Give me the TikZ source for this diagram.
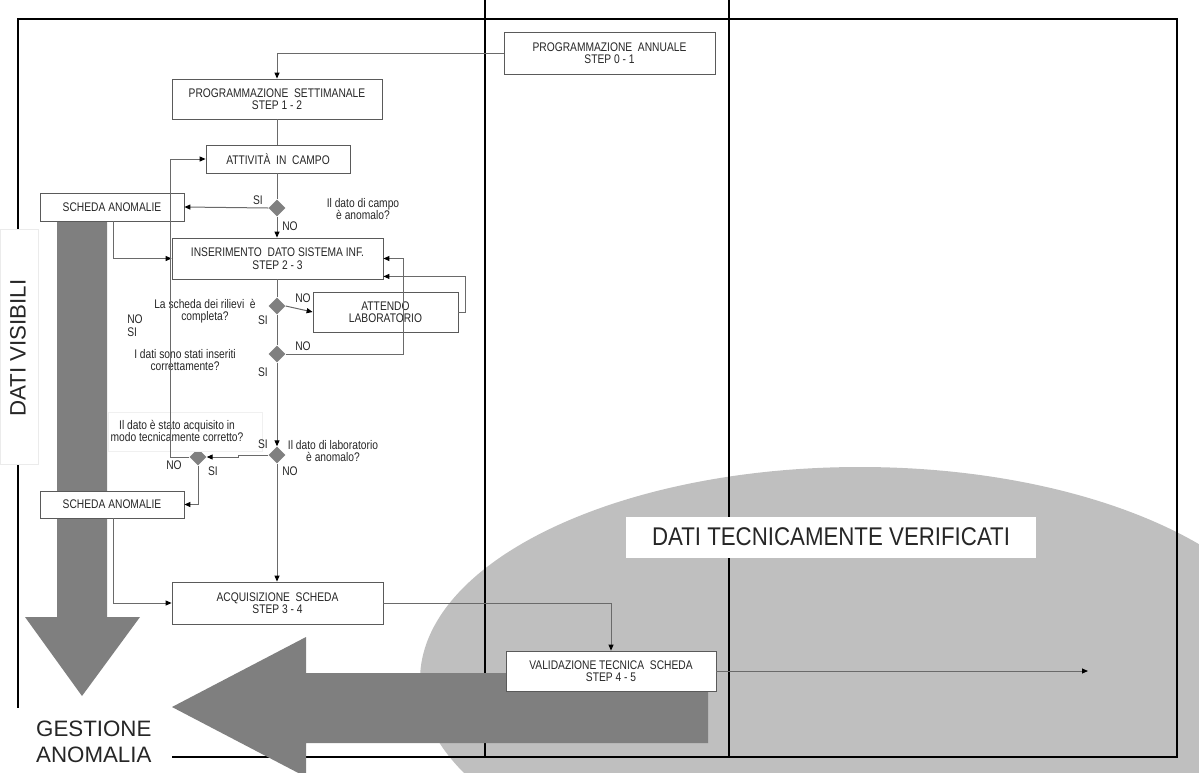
\documentclass[tikz,border=0pt]{standalone}
\usepackage{fontspec}
\setmainfont{Liberation Sans}
\newfontfamily\narrowfont{Liberation Sans}[FakeStretch=0.82]
\newfontfamily\condfont{Liberation Sans}[FakeStretch=0.87]
\usetikzlibrary{arrows.meta,shapes.geometric,calc}
\definecolor{bigarrow}{HTML}{7F7F7F}
\definecolor{ellgray}{HTML}{BFBFBF}
\definecolor{connc}{HTML}{6A6A6A}
\definecolor{boxline}{HTML}{5A5A5A}
\definecolor{txt}{HTML}{262626}
\definecolor{diamgray}{HTML}{808080}
\begin{document}
\begin{tikzpicture}[x=1pt,y=-1pt,
  box/.style={draw=boxline, line width=0.8pt, fill=white, rectangle, inner sep=0pt,
    align=center, font=\narrowfont\fontsize{12.5}{12.5}\selectfont, text=txt},
  diam/.style={diamond, fill=diamgray, draw=none, inner sep=0pt,
    minimum width=17pt, minimum height=17pt},
  lbl/.style={font=\narrowfont\fontsize{12.5}{12.5}\selectfont, text=txt, inner sep=0pt},
  ques/.style={lbl, align=center},
  conn/.style={draw=connc, line width=1pt},
  arr/.style={conn, -{Triangle[length=6pt,width=5pt,color=black]}},
  frameline/.style={line width=2.2pt, draw=black},
  bigtext/.style={font=\fontsize{22.3}{26}\selectfont, text=black!85, inner sep=0pt}
]
\useasboundingbox (0,0) rectangle (1199,772);
\clip (0,0) rectangle (1199,772);

% big light ellipse
\fill[ellgray] (860,680) ellipse [x radius=440pt, y radius=213pt];

% frame and lanes
\draw[frameline] (18,19) -- (1177,19) -- (1177,757) -- (18,757) -- cycle;
\draw[frameline] (485,0) -- (485,757);
\draw[frameline] (729,0) -- (729,757);

% white covers
\node[draw=black!8, fill=white, minimum width=38pt, minimum height=235pt, inner sep=0pt] (dvbox) at (19,347) {};
\node[bigtext, rotate=90] (dv) at (18,348) {DATI VISIBILI};
\node[fill=white, minimum width=155pt, minimum height=70pt, inner sep=0pt] (gbox) at (94.5,743) {};
\node[bigtext, anchor=base west] (g1) at (36,736) {GESTIONE};
\node[bigtext, anchor=base west] (g2) at (36,762) {ANOMALIA};

% big grey arrows
\fill[bigarrow] (57,215) -- (107,215) -- (107,617) -- (140,617) -- (82,696) -- (25,617) -- (57,617) -- cycle;
\fill[bigarrow] (708,673) -- (708,743) -- (306,743) -- (306,777) -- (172,707) -- (306,637) -- (306,673) -- cycle;

% title box in the ellipse
\node[fill=white, minimum width=410pt, minimum height=41pt, inner sep=0pt,
  font=\condfont\fontsize{25.6}{26}\selectfont, text=black!85] (dtv) at (831,537) {DATI TECNICAMENTE VERIFICATI};

% boxes
\node[box, minimum width=211pt, minimum height=42pt] (ann) at (609.5,53) {PROGRAMMAZIONE\ \ ANNUALE\\STEP 0 - 1};
\node[box, minimum width=210pt, minimum height=40pt] (sett) at (277,99) {PROGRAMMAZIONE\ \ SETTIMANALE\\STEP 1 - 2};
\node[box, minimum width=144pt, minimum height=28pt] (att) at (278,159) {ATTIVIT\`A\ \ IN\ \ CAMPO};
\node[box, minimum width=144pt, minimum height=28pt] (sch1) at (112,207) {SCHEDA ANOMALIE};
\node[box, minimum width=211pt, minimum height=41pt] (ins) at (277.5,258.5) {INSERIMENTO\ \ DATO SISTEMA INF.\\STEP 2 - 3};
\node[box, minimum width=145pt, minimum height=40pt] (attlab) at (385.5,312) {ATTENDO\\LABORATORIO};
\node[box, minimum width=144pt, minimum height=27pt] (sch2) at (112,504.5) {SCHEDA ANOMALIE};
\node[box, minimum width=211pt, minimum height=42pt] (acq) at (277.5,603) {ACQUISIZIONE\ \ SCHEDA\\STEP 3 - 4};
\node[box, minimum width=210pt, minimum height=40pt] (val) at (611,671) {VALIDAZIONE TECNICA\ \ SCHEDA\\STEP 4 - 5};

% diamonds
\node[diam] (d1) at (277,208) {};
\node[diam] (d2) at (277,306) {};
\node[diam] (d3) at (277,354) {};
\node[diam] (d4) at (277,455) {};
\node[diam] (d5) at (198,457) {};

% question texts
\node[draw=black!6, fill=white, minimum width=154pt, minimum height=39pt, inner sep=0pt] (q5box) at (185,431.5) {};
\node[ques] (q1) at (363,209) {Il dato di campo\\\`e anomalo?};
\node[ques] (q2) at (205,311) {La scheda dei rilievi \ \`e\\completa?};
\node[ques] (q3) at (185,360) {I dati sono stati inseriti\\correttamente?};
\node[ques] (q4) at (333,451) {Il dato di laboratorio\\\`e anomalo?};
\node[ques] (q5) at (177,431) {Il dato \`e stato acquisito in\\modo tecnicamente corretto?};

% yes / no labels
\node[lbl] (si1) at (258,200) {SI};
\node[lbl] (no1) at (290,226) {NO};
\node[lbl] (no2) at (303,298) {NO};
\node[lbl] (si2) at (263,320) {SI};
\node[lbl] (no3) at (303,346) {NO};
\node[lbl] (si3) at (263,372) {SI};
\node[lbl] (si4) at (263,444) {SI};
\node[lbl] (no4) at (290,471) {NO};
\node[lbl] (no5) at (174,465) {NO};
\node[lbl] (si5) at (213,471) {SI};
\node[lbl, align=left] (stray) at (135,325.5) {NO\\SI};

% connectors
\coordinate (endv) at (1088,671);
\draw[arr] (ann.west) -| (sett.north);
\draw[conn] (sett.south) -- (sett.south |- att.north);
\draw[conn] (d1.north |- att.south) -- (d1.north);
\draw[arr] (d1.west) -- (sch1.east);
\draw[arr] (d1.south) -- (d1.south |- ins.north);
\draw[arr] ($(sch1.south)+(1,0)$) |- (ins.west);
\draw[conn] (d2.north |- ins.south) -- (d2.north);
\draw[arr] (d2.east) -- (attlab.west);
\draw[conn] (d2.south) -- (d3.north);
\draw[arr] (d3.east) -| ($(ins.east)+(20,0)$) -- (ins.east);
\draw[arr] (attlab.east) -- ++(7,0) |- ($(ins.south east)+(0,-3)$);
\draw[arr] (d3.south) -- (d4.north);
\draw[arr] (d4.west) -- (238,455) -- (238,457) -- (d5.east);
\draw[arr] (d5.west) -- (170,457) |- (att.west);
\draw[arr] (d5.south) |- (sch2.east);
\draw[arr] ($(sch2.south)+(1,0)$) |- (acq.west);
\draw[arr] (d4.south) -- (d4.south |- acq.north);
\draw[arr] (acq.east) -| (val.north);
\draw[arr] (val.east) -- (endv);
\end{tikzpicture}
\end{document}
